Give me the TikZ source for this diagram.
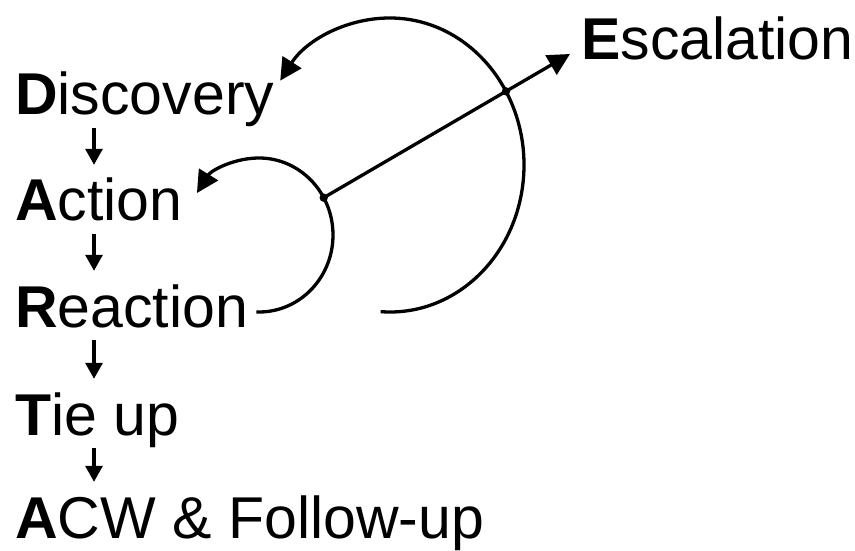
\documentclass[tikz,border=0pt]{standalone}
\usepackage{fontspec}
\setmainfont{Liberation Sans}
\usetikzlibrary{arrows.meta,intersections}

\begin{document}
\begin{tikzpicture}[x=1pt,y=1pt,
  stage/.style={anchor=base west,inner sep=0pt,text height=41pt,text depth=11pt,font=\fontsize{59}{70}\selectfont},
  flow/.style={line width=3.2pt,shorten <=2pt,shorten >=15pt,-{Triangle[length=16pt,width=17pt]}},
  feedback/.style={line width=3.3pt,-{Triangle[length=22pt,width=22pt]}}]
\useasboundingbox (0,0) rectangle (855,550);
% Stages
\node[stage] (disc) at (15,435) {\textbf{D}iscovery};
\node[stage] (act) at (15,329) {\textbf{A}ction};
\node[stage] (reac) at (15,223) {\textbf{R}eaction};
\node[stage] (tie) at (15,115) {\textbf{T}ie up};
\node[stage] (acw) at (15,12) {\textbf{A}CW \& Follow-up};
\node[stage] (esc) at (581,490) {\textbf{E}scalation};
% Arrows between stages
\draw[flow] ([xshift=79pt]disc.south west) -- ([xshift=79pt]act.north west);
\draw[flow] ([xshift=79pt]act.south west) -- ([xshift=79pt]reac.north west);
\draw[flow] ([xshift=79pt]reac.south west) -- ([xshift=79pt]tie.north west);
\draw[flow] ([xshift=79pt]tie.south west) -- ([xshift=79pt]acw.north west);
% Loops back
\coordinate (small) at (259,315);
\coordinate (big) at (390,385);
\draw[feedback] ([shift={(268:74 and 77)}]small) arc[start angle=268,end angle=507,x radius=74,y radius=77];
\draw[feedback,name path=bigloop] ([shift={(266:134 and 147)}]big) arc[start angle=266,end angle=505,x radius=134,y radius=147];
% Escalation
\coordinate (sj) at ([shift={(29:74 and 77)}]small);
\coordinate (tip) at (570,496);
\draw[feedback,name path=ray] (sj) -- (tip);
\fill (sj) circle (4.2pt);
\fill[name intersections={of=bigloop and ray}] (intersection-1) circle (4.2pt);
\end{tikzpicture}
\end{document}
